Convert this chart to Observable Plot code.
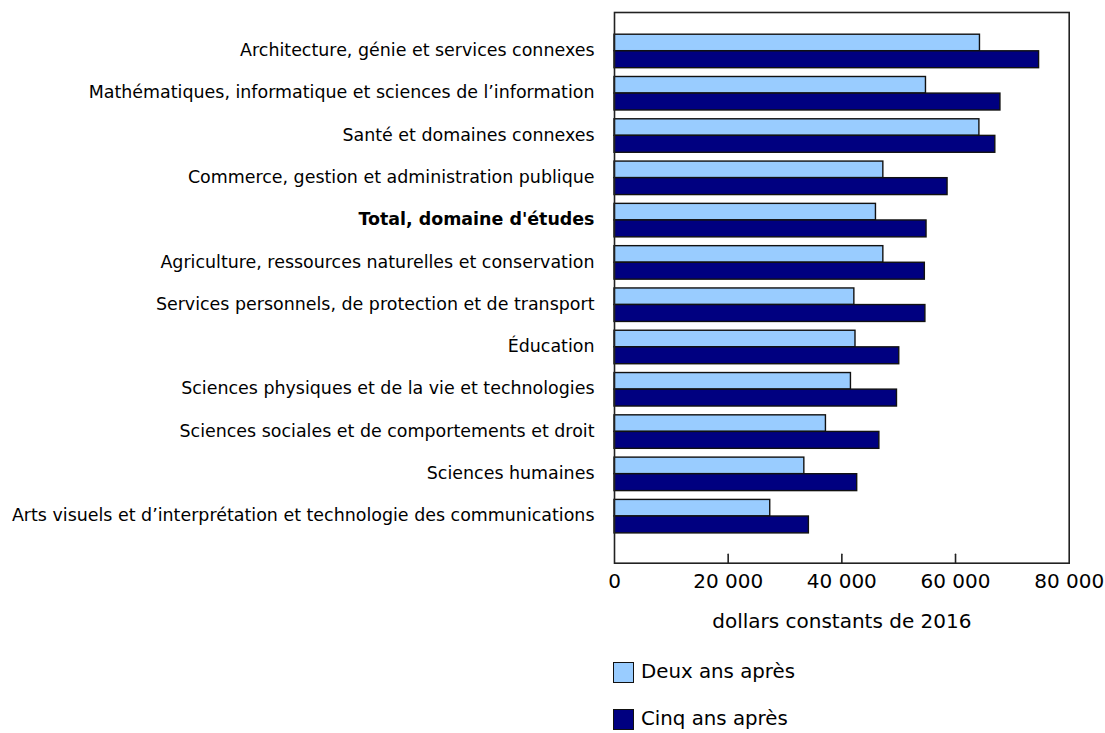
<!DOCTYPE html>
<html>
<head>
<meta charset="utf-8">
<script src="https://cdn.jsdelivr.net/npm/d3@7"></script>
<script src="https://cdn.jsdelivr.net/npm/@observablehq/plot@0.6"></script>
<style>
  body { margin: 0; background: #fff; font-family: "DejaVu Sans", Verdana, sans-serif; }
  #wrap { position: relative; width: 1105px; height: 733px; overflow: hidden; }
  .leg { position: absolute; left: 613px; display: flex; align-items: center; font-size: 19.8px; line-height: 22px; color: #000; }
  .sw { width: 19px; height: 19px; border: 1.5px solid #111; margin-right: 7px; }
</style>
</head>
<body>
<div id="wrap"></div>
<script>
const categories = [
  "Architecture, génie et services connexes",
  "Mathématiques, informatique et sciences de l’information",
  "Santé et domaines connexes",
  "Commerce, gestion et administration publique",
  "Total, domaine d'études",
  "Agriculture, ressources naturelles et conservation",
  "Services personnels, de protection et de transport",
  "Éducation",
  "Sciences physiques et de la vie et technologies",
  "Sciences sociales et de comportements et droit",
  "Sciences humaines",
  "Arts visuels et d’interprétation et technologie des communications"
];
const deuxAns = [64300, 54800, 64200, 47300, 46000, 47300, 42200, 42400, 41600, 37200, 33400, 27400];
const cinqAns = [74700, 67900, 67000, 58600, 54900, 54600, 54700, 50100, 49700, 46600, 42700, 34200];
const seriesNames = ["Deux ans après", "Cinq ans après"];
const seriesColors = ["#99CCFF", "#000080"];
const xTicks = [0, 20000, 40000, 60000, 80000];
const xLabel = "dollars constants de 2016";
const boldCategory = "Total, domaine d'études";

const rows = categories.map((c, i) => ({cat: c, deux: deuxAns[i], cinq: cinqAns[i]}));
const fmt = d => d3.format(",")(d).replace(/,/g, " ");
const font = "DejaVu Sans, Verdana, sans-serif";

const chart = Plot.plot({
  width: 1105,
  height: 650,
  marginLeft: 614,
  marginRight: 36.3,
  marginTop: 12,
  marginBottom: 87.3,
  style: {fontFamily: font, color: "#000", background: "#fff"},
  x: {domain: [0, 80000], axis: null},
  y: {domain: categories, range: [29.9, 537.4], padding: 0, round: false, axis: null},
  marks: [
    Plot.barX(rows, {y: "cat", x: "deux", fill: seriesColors[0], stroke: "#111", strokeWidth: 1.4, insetTop: 4.3, insetBottom: 21.5}),
    Plot.barX(rows, {y: "cat", x: "cinq", fill: seriesColors[1], stroke: "#111", strokeWidth: 1.4, insetTop: 20.9, insetBottom: 4.5}),
    Plot.frame({stroke: "#222", strokeWidth: 1.6}),
    Plot.vector(xTicks.slice(1, -1), {x: d => d, frameAnchor: "bottom", length: 9, rotate: 0, anchor: "start", stroke: "#222", strokeWidth: 1.6,
      shape: {draw(c, l) { c.moveTo(0, 0); c.lineTo(0, -l); }}}),
    Plot.text(xTicks, {x: d => d, frameAnchor: "bottom", dy: 24.5, text: d => fmt(d), fontSize: 20, fill: "#000"}),
    Plot.text([xLabel], {x: 40000, frameAnchor: "bottom", dy: 64.5, text: d => d, fontSize: 20, fill: "#000"}),
    Plot.text(categories.filter(c => c !== boldCategory), {y: d => d, frameAnchor: "left", textAnchor: "end", dx: -20, dy: -1, text: d => d, fontSize: 17.45, fill: "#000"}),
    Plot.text([boldCategory], {y: d => d, frameAnchor: "left", textAnchor: "end", dx: -20, dy: -1, text: d => d, fontSize: 17.45, fontWeight: "bold", fill: "#000"})
  ]
});

const wrap = document.getElementById("wrap");
chart.style.position = "absolute";
chart.style.left = "0px";
chart.style.top = "0px";
wrap.appendChild(chart);

const legTops = [661, 708];
seriesNames.forEach((name, i) => {
  const d = document.createElement("div");
  d.className = "leg";
  d.style.top = legTops[i] + "px";
  const sw = document.createElement("div");
  sw.className = "sw";
  sw.style.background = seriesColors[i];
  const t = document.createElement("span");
  t.textContent = name;
  d.appendChild(sw);
  d.appendChild(t);
  wrap.appendChild(d);
});
</script>
</body>
</html>
